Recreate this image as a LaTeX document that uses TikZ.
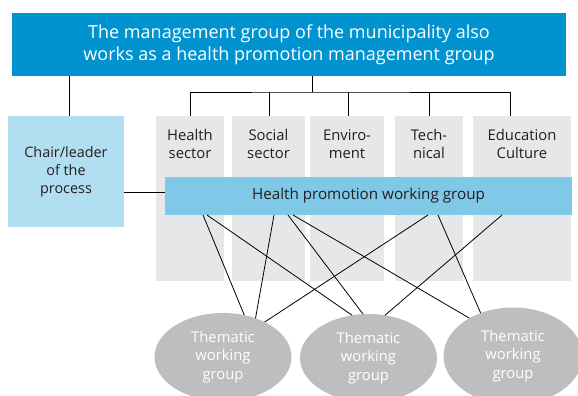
\documentclass[tikz,border=0pt]{standalone}
\usepackage{fontspec}
\setmainfont{Open Sans}
\usetikzlibrary{shapes.geometric,calc}
\definecolor{topblue}{HTML}{0093D0}
\definecolor{barblue}{HTML}{7FC8E7}
\definecolor{chairblue}{HTML}{B2DEF1}
\definecolor{colgray}{HTML}{E6E7E8}
\definecolor{ellgray}{HTML}{BCBEC0}
\definecolor{txtdark}{HTML}{231F20}
\begin{document}
\begin{tikzpicture}[x=1pt,y=-1pt,
  box/.style={rectangle,inner sep=0pt,outer sep=0pt},
  colbox/.style={box,fill=colgray,minimum height=165pt},
  collab/.style={inner sep=0pt,align=center,text=txtdark,font=\fontsize{14.8}{18}\selectfont},
  tgroup/.style={ellipse,inner sep=0pt,outer sep=0pt,fill=ellgray,minimum width=137pt,minimum height=88pt,text=white,align=center,font=\fontsize{14.8}{18.5}\selectfont},
  conn/.style={draw=black,line width=0.8pt}]
\useasboundingbox (0,0) rectangle (578,396);
% sector columns
\node[colbox,minimum width=68pt] (hcol) at (190,198.5) {};
\node[colbox,minimum width=73pt] (scol) at (268.5,198.5) {};
\node[colbox,minimum width=74pt] (vcol) at (347,198.5) {};
\node[colbox,minimum width=68pt] (tcol) at (429,198.5) {};
\node[colbox,minimum width=98pt] (ecol) at (522,198.5) {};
\node[collab] (hlab) at ($(hcol.north)+(0,28)$) {Health\\sector};
\node[collab] (slab) at ($(scol.north)+(0,28)$) {Social\\sector};
\node[collab] (vlab) at ($(vcol.north)+(0,28)$) {Enviro-\\ment};
\node[collab] (tlab) at ($(tcol.north)+(0,28)$) {Tech-\\nical};
\node[collab] (elab) at ($(ecol.north)+(0,28)$) {Education\\Culture};
% top box
\node[box,fill=topblue,minimum width=554pt,minimum height=63pt,text=white,align=center,
  font=\fontsize{18}{22}\selectfont] (top) at (289,44.5)
  {The management group of the municipality also\\works as a health promotion management group};
% chair box
\node[box,fill=chairblue,minimum width=116pt,minimum height=111pt,text=txtdark,align=center,
  font=\fontsize{14.4}{18}\selectfont] (chair) at (66,171.5) {Chair/leader\\of the\\process};
% working group bar
\node[box,fill=barblue,minimum width=407pt,minimum height=38pt,text=txtdark,
  font=\fontsize{15.2}{18}\selectfont] (bar) at (368.5,196) {Health promotion working group};
% thematic groups
\node[tgroup] (e1) at (223,357) {Thematic\\working\\group};
\node[tgroup] (e2) at (368.5,358) {Thematic\\working\\group};
\node[tgroup,minimum width=139pt,minimum height=97pt] (e3) at (513,356) {Thematic\\working\\group};
% connectors from top box
\coordinate (hub) at (312,92);
\draw[conn] ($(chair.north)+(3,0)$) coordinate (cn) -- (cn |- top.south);
\draw[conn] (top.south -| hub) -- (hub);
\draw[conn] (hcol.north) |- (hub) -| ($(ecol.north)+(-12,0)$);
\draw[conn] ($(scol.north)+(0.5,0)$) coordinate (sn) -- (sn |- hub);
\draw[conn] ($(vcol.north)+(1,0)$) coordinate (vn) -- (vn |- hub);
\draw[conn] (tcol.north) -- (tcol.north |- hub);
% chair to bar
\draw[conn] ($(bar.west)+(0,-4)$) coordinate (cb) -- (cb -| chair.east);
% bar to thematic groups
\draw[conn] ($(bar.south west)+(38,0)$) -- (e1.63);
\draw[conn] ($(bar.south west)+(42,0)$) -- (e2.111);
\draw[conn] ($(bar.south west)+(109,0)$) -- (e1.50);
\draw[conn] ($(bar.south west)+(123,0)$) -- (e2.97);
\draw[conn] ($(bar.south west)+(128,0)$) -- (e3.139);
\draw[conn] ($(bar.south west)+(263,0)$) -- (e1.40);
\draw[conn] ($(bar.south west)+(273,0)$) -- (e3.127);
\draw[conn] ($(bar.south west)+(337,0)$) -- (e2.69);
\end{tikzpicture}
\end{document}
